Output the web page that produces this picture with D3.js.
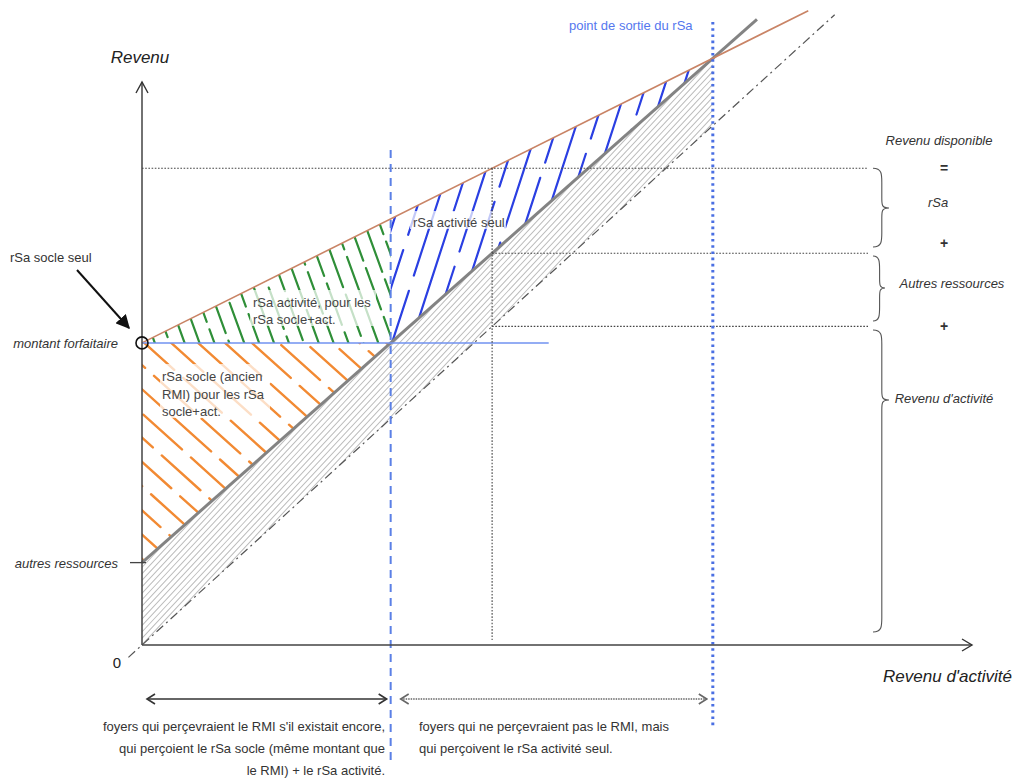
<!DOCTYPE html>
<html><head><meta charset="utf-8">
<script src="https://cdn.jsdelivr.net/npm/d3@7"></script>
<style>body{margin:0;background:#fff}svg{display:block;font-family:"Liberation Sans",Arial,sans-serif}</style>
</head><body><svg id="c" width="1015" height="782"></svg>
<script>
// ---- data (model units) ----
const xDomain = [0, 110];
const yDomain = [0, 82];
const montantForfaitaire = 44;
const autresRessources = 12;
const penteRevenuDisponible = 0.548;
const penteRevenuSansRsa = 0.971;
const exempleRevenuActivite = 46.4;
const finRevenuDisponible = 88.3;
const finRevenuSansRsa = 81.5;
const bissectrice = [-1.8, 91.8];
const finLigneForfait = 53.9;
const yLabels = ["montant forfaitaire", "autres ressources"];
const rightLabels = ["Revenu disponible", "=", "rSa", "+", "Autres ressources", "+", "Revenu d'activité"];
const leftNote = ["foyers qui perçevraient le RMI s'il existait encore,", "qui perçoient le rSa socle (même montant que", "le RMI) + le rSa activité."];
const rightNote = ["foyers qui ne perçevraient pas le RMI, mais", "qui perçoivent le rSa activité seul."];
const zoneLabelsSocleAct = ["rSa activité, pour les", "rSa socle+act."];
const zoneLabelsSocle = ["rSa socle (ancien", "RMI) pour les rSa", "socle+act."];

// ---- scales ----
const svg = d3.select("#c");
const x = d3.scaleLinear().domain(xDomain).range([142, 972]);
const y = d3.scaleLinear().domain(yDomain).range([645, 82]);
const dispo = v => montantForfaitaire + penteRevenuDisponible * v;
const sansRsa = v => autresRessources + penteRevenuSansRsa * v;
const xSocle = (montantForfaitaire - autresRessources) / penteRevenuSansRsa;
const xSortie = (montantForfaitaire - autresRessources) / (penteRevenuSansRsa - penteRevenuDisponible);
const P = (a, b) => [x(a), y(b)];

// ---- hatching helper ----
function hatch(id, pts, angle, spacing, color, width, dash, seed, period) {
  svg.append("clipPath").attr("id", id).append("polygon")
    .attr("points", pts.map(p => p.join(",")).join(" "));
  const g = svg.append("g").attr("clip-path", `url(#${id})`);
  const xs = pts.map(p => p[0]), ys = pts.map(p => p[1]);
  const cx = (d3.min(xs) + d3.max(xs)) / 2, cy = (d3.min(ys) + d3.max(ys)) / 2;
  const R = Math.hypot(d3.max(xs) - d3.min(xs), d3.max(ys) - d3.min(ys)) / 2 + 10;
  const inner = g.append("g").attr("transform", `translate(${cx},${cy}) rotate(${angle})`);
  const n = Math.ceil(R / spacing);
  for (let i = -n; i <= n; i++) {
    inner.append("line").attr("x1", -R).attr("x2", R).attr("y1", i * spacing).attr("y2", i * spacing)
      .attr("stroke", color).attr("stroke-width", width).attr("stroke-linecap", "round")
      .attr("stroke-dasharray", dash)
      .attr("stroke-dashoffset", period ? (((i * seed) % period) + period) % period : 0);
  }
}

// gray hatched: autres ressources
hatch("hg", [P(0, 0), P(0, autresRessources), P(xSortie, sansRsa(xSortie)), P(xSortie, xSortie)],
  -47, 4.4, "#bcbcbc", 1, null, 0, 0);
// orange: rSa socle
hatch("ho", [P(0, montantForfaitaire), P(xSocle, montantForfaitaire), P(0, autresRessources)],
  42, 18, "#f28a33", 2.4, "52 12", 23, 64);
// green: rSa activité (socle+act)
hatch("hv", [P(0, montantForfaitaire), P(xSocle, dispo(xSocle)), P(xSocle, montantForfaitaire)],
  70, 14, "#2f8f38", 2.2, "44 8", 17, 52);
// blue: rSa activité seul
hatch("hb", [P(xSocle, montantForfaitaire), P(xSocle, dispo(xSocle)), P(xSortie, dispo(xSortie))],
  -72, 18, "#2a3fe2", 2.2, "95 16", 37, 111);

// label backgrounds (faded hatching)
const fade = (x0, y0, w, h) => svg.append("rect").attr("x", x0).attr("y", y0).attr("width", w).attr("height", h)
  .attr("fill", "#fff").attr("opacity", 0.72);
fade(250, 290, 126, 36);
fade(160, 364, 110, 54);
fade(410, 211, 96, 18);

// ---- lines ----
const line = d3.line().x(d => x(d[0])).y(d => y(d[1]));
svg.append("path").attr("d", line(bissectrice.map(v => [v, v])))
  .attr("fill", "none").attr("stroke", "#555").attr("stroke-width", 1.2).attr("stroke-dasharray", "9 4 2 4");
svg.append("path").attr("d", line([[0, autresRessources], [finRevenuSansRsa, sansRsa(finRevenuSansRsa)]]))
  .attr("fill", "none").attr("stroke", "#838383").attr("stroke-width", 3);
svg.append("path").attr("d", line([[0, montantForfaitaire], [finRevenuDisponible, dispo(finRevenuDisponible)]]))
  .attr("fill", "none").attr("stroke", "#c98466").attr("stroke-width", 1.6);
svg.append("path").attr("d", line([[0, montantForfaitaire], [finLigneForfait, montantForfaitaire]]))
  .attr("fill", "none").attr("stroke", "#7092f0").attr("stroke-width", 1.5);

// black dotted guides
const ex = exempleRevenuActivite;
const dot = (a, b) => svg.append("path").attr("d", line([a, b])).attr("fill", "none")
  .attr("stroke", "#444").attr("stroke-width", 1.1).attr("stroke-dasharray", "1.6 1.6");
dot([0, dispo(ex)], [x.invert(868), dispo(ex)]);
dot([ex, sansRsa(ex)], [x.invert(868), sansRsa(ex)]);
dot([ex, ex], [x.invert(868), ex]);
dot([ex, dispo(ex)], [ex, y.invert(640)]);

// blue verticals
svg.append("path").attr("d", line([[xSocle, y.invert(150)], [xSocle, y.invert(766)]]))
  .attr("stroke", "#5b80e6").attr("stroke-width", 2).attr("stroke-dasharray", "8 6");
svg.append("path").attr("d", line([[xSortie, y.invert(22)], [xSortie, y.invert(726)]]))
  .attr("stroke", "#4a6fe3").attr("stroke-width", 3).attr("stroke-dasharray", "2.6 3.6");

// ---- axes ----
svg.append("path").attr("d", `M${x(0)},${y(0)}V${y(yDomain[1])}M${x(0)},${y(0)}H${x(xDomain[1])}`)
  .attr("fill", "none").attr("stroke", "#444").attr("stroke-width", 1.5);
svg.append("path").attr("d", `M${x(0) - 6},${y(yDomain[1]) + 11}L${x(0)},${y(yDomain[1])}L${x(0) + 6},${y(yDomain[1]) + 11}`)
  .attr("fill", "none").attr("stroke", "#333").attr("stroke-width", 1.4);
svg.append("path").attr("d", `M${x(xDomain[1]) - 10},${y(0) - 6}L${x(xDomain[1])},${y(0)}L${x(xDomain[1]) - 10},${y(0) + 6}`)
  .attr("fill", "none").attr("stroke", "#333").attr("stroke-width", 1.4);
svg.append("path").attr("d", `M${x(0) - 12},${y(autresRessources)}H${x(0) + 4}`).attr("stroke", "#444").attr("stroke-width", 1.3);
svg.append("circle").attr("cx", x(0)).attr("cy", y(montantForfaitaire)).attr("r", 6)
  .attr("fill", "none").attr("stroke", "#111").attr("stroke-width", 1.6);

// ---- texts ----
const txt = (s, tx, ty, o = {}) => svg.append("text").attr("x", tx).attr("y", ty).text(s)
  .attr("font-size", o.size || 13).attr("font-style", o.italic ? "italic" : null)
  .attr("text-anchor", o.anchor || "start").attr("fill", o.color || "#333")
  .attr("font-weight", o.weight || null);

txt("Revenu", 140, 63, { size: 17, italic: true, anchor: "middle", color: "#222" });
txt("Revenu d'activité", 1012, 682, { size: 17, italic: true, anchor: "end", color: "#222" });
txt("0", 117, 668, { size: 15, anchor: "middle", color: "#222" });
txt(yLabels[0], 118, y(montantForfaitaire) + 5, { italic: true, anchor: "end" });
txt(yLabels[1], 118, y(autresRessources) + 5, { italic: true, anchor: "end" });
txt("rSa socle seul", 10, 262);
txt("point de sortie du rSa", x(xSortie) - 82, 30, { color: "#5577ee", anchor: "middle" });

zoneLabelsSocleAct.forEach((s, i) => txt(s, 253, 307 + i * 17, { color: "#444" }));
zoneLabelsSocle.forEach((s, i) => txt(s, 162, 381 + i * 17.5, { color: "#444" }));
txt("rSa activité seul", 413, 227, { color: "#444" });

svg.append("defs").append("marker").attr("id", "ah").attr("viewBox", "0 0 10 10").attr("refX", 9).attr("refY", 5)
  .attr("markerWidth", 7).attr("markerHeight", 7).attr("orient", "auto")
  .append("path").attr("d", "M0,0L10,5L0,10z").attr("fill", "#111");
svg.append("path").attr("d", "M77,270L129,328").attr("stroke", "#111").attr("stroke-width", 2).attr("marker-end", "url(#ah)");

// right column
const rc = [[939, 145], [944, 173], [938, 207], [944, 248], [952, 288], [944, 331], [944, 403]];
rightLabels.forEach((s, i) => {
  const op = s === "=" || s === "+";
  txt(s, rc[i][0], rc[i][1], { italic: !op, anchor: "middle", weight: op ? "bold" : null, size: op ? 14 : 13 });
});
function brace(x0, top, bot, tip, w) {
  const xm = x0 + w * 0.55, xt = x0 + w;
  const d = `M${x0},${top}C${xm},${top} ${xm},${top + 6} ${xm},${top + 14}` +
    `L${xm},${tip - 10}C${xm},${tip - 3} ${xm},${tip} ${xt},${tip}` +
    `C${xm},${tip} ${xm},${tip + 3} ${xm},${tip + 10}` +
    `L${xm},${bot - 14}C${xm},${bot - 6} ${xm},${bot} ${x0},${bot}`;
  svg.append("path").attr("d", d).attr("fill", "none").attr("stroke", "#555").attr("stroke-width", 1.1);
}
brace(873, y(dispo(ex)), 247, 208, 16);
brace(873, 256, 321, 288, 12);
brace(873, 330, 632, 400, 16);

// bottom double arrows
const ya = 699;
function dbl(x1, x2, dash, col) {
  svg.append("path").attr("d", `M${x1},${ya}H${x2}`).attr("stroke", col).attr("stroke-width", 1.6).attr("stroke-dasharray", dash);
  svg.append("path").attr("d", `M${x1 + 8},${ya - 5}L${x1},${ya}L${x1 + 8},${ya + 5}M${x2 - 8},${ya - 5}L${x2},${ya}L${x2 - 8},${ya + 5}`)
    .attr("fill", "none").attr("stroke", col).attr("stroke-width", 1.6);
}
dbl(x(0) + 5, x(xSocle) - 4, null, "#333");
dbl(x(xSocle) + 10, x(xSortie) - 6, "1.5 1", "#666");

leftNote.forEach((s, i) => txt(s, 385, 731 + i * 22, { size: 13, anchor: "end", color: "#333" }));
rightNote.forEach((s, i) => txt(s, 419, 731 + i * 22, { size: 13, color: "#333" }));
</script></body></html>
